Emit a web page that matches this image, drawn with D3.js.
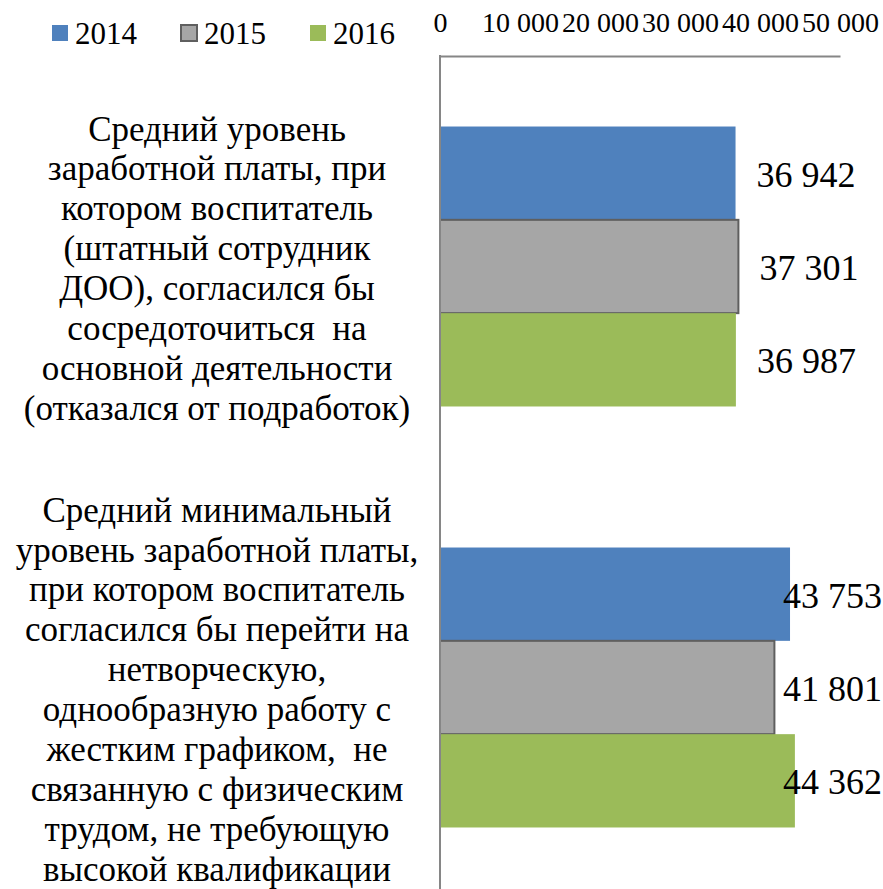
<!DOCTYPE html>
<html>
<head>
<meta charset="utf-8">
<script src="https://cdn.jsdelivr.net/npm/d3@7"></script>
<style>
  body { margin: 0; background: #fff; }
  svg { display: block; }
  svg text { font-family: "Liberation Serif", "Times New Roman", serif; }
</style>
</head>
<body>
<svg id="chart"></svg>
<script>
// categories, each split into the lines shown left of the bars
const categories = [
  ['Средний уровень', 'заработной платы, при', 'котором воспитатель', '(штатный сотрудник',
   'ДОО), согласился бы', 'сосредоточиться  на', 'основной деятельности', '(отказался от подработок)'],
  ['Средний минимальный', 'уровень заработной платы,', 'при котором воспитатель',
   'согласился бы перейти на', 'нетворческую,', 'однообразную работу с', 'жестким графиком,  не',
   'связанную с физическим', 'трудом, не требующую', 'высокой квалификации']
];
const years = ['2014', '2015', '2016'];
const values2014 = [36942, 43753];
const values2015 = [37301, 41801];
const values2016 = [36987, 44362];
const xTicks = [0, 10000, 20000, 30000, 40000, 50000];
const yearColors = ['#4f81bd', '#a6a6a6', '#9bbb59'];

// settings
const config = {
  width: 883,
  height: 889,
  plot: { left: 440, top: 56, right: 840, bottom: 898 },
  chartRight: 882,
  legend: { x: 52, y: 25, step: 129, box: 16 },
};

const seriesValues = [values2014, values2015, values2016];
const rows = categories.map((lines, i) => ({
  lines: lines,
  bars: years.map((y, j) => ({ year: y, value: seriesValues[j][i], color: yearColors[j] })),
}));

// russian style number formatting: 10 000
const ru = d3.formatLocale({ decimal: ',', thousands: '\u00a0', grouping: [3], currency: ['', ''] });
const fmt = ru.format(',d');

const svg = d3.select('#chart')
  .attr('width', config.width)
  .attr('height', config.height);

const x = d3.scaleLinear()
  .domain([0, 50000])
  .range([config.plot.left, config.plot.right]);

const y = d3.scaleBand()
  .domain(d3.range(categories.length))
  .range([config.plot.top, config.plot.bottom])
  .paddingInner(0.335)
  .paddingOuter(0.1675);

const yInner = d3.scaleBand()
  .domain(years)
  .range([0, y.bandwidth()]);

// bars
const groups = svg.selectAll('.cat')
  .data(rows)
  .join('g')
  .attr('class', 'cat')
  .attr('transform', (d, i) => `translate(0, ${y(i)})`);

groups.selectAll('rect')
  .data(d => d.bars)
  .join('rect')
  .attr('x', x(0))
  .attr('y', d => yInner(d.year))
  .attr('width', d => x(d.value) - x(0))
  .attr('height', yInner.bandwidth())
  .attr('fill', d => d.color)
  .attr('stroke', d => d.year === '2015' ? '#5f5f5f' : 'none')
  .attr('stroke-width', 2);

// value labels, pushed back inside the chart area when they would overflow (like excel does)
groups.selectAll('text.value')
  .data(d => d.bars)
  .join('text')
  .attr('class', 'value')
  .attr('y', d => yInner(d.year) + yInner.bandwidth() / 2)
  .attr('dy', '0.38em')
  .attr('font-size', 36)
  .attr('fill', '#000')
  .text(d => fmt(d.value))
  .attr('x', function(d) {
    const w = this.getComputedTextLength();
    return Math.min(x(d.value) + 21, config.chartRight - w);
  });

// category labels
groups.each(function(d) {
  const n = d.lines.length;
  const lineH = 40;
  const t = d3.select(this).append('text')
    .attr('text-anchor', 'middle')
    .attr('font-size', 35)
    .attr('fill', '#000');
  t.selectAll('tspan')
    .data(d.lines)
    .join('tspan')
    .attr('x', 217)
    .attr('y', (l, k) => y.bandwidth() / 2 + 14 + (k - (n - 1) / 2) * lineH)
    .style('white-space', 'pre')
    .text(l => l);
});

// axes
const xAxis = d3.axisTop(x)
  .tickValues(xTicks)
  .tickSize(0)
  .tickPadding(24)
  .tickFormat(fmt);

const gx = svg.append('g')
  .attr('transform', `translate(0, ${config.plot.top})`)
  .call(xAxis);
gx.select('.domain').attr('stroke', '#868686').attr('stroke-width', 2);
gx.selectAll('text')
  .attr('font-size', 28)
  .attr('fill', '#000');

svg.append('line')
  .attr('x1', x(0)).attr('x2', x(0))
  .attr('y1', config.plot.top - 1).attr('y2', config.height)
  .attr('stroke', '#868686')
  .attr('stroke-width', 2);

// legend
const legend = svg.selectAll('.legend')
  .data(years)
  .join('g')
  .attr('class', 'legend')
  .attr('transform', (d, i) => `translate(${config.legend.x + i * config.legend.step}, ${config.legend.y})`);

legend.append('rect')
  .attr('width', config.legend.box)
  .attr('height', config.legend.box)
  .attr('fill', (d, i) => yearColors[i])
  .attr('stroke', d => d === '2015' ? '#5f5f5f' : 'none')
  .attr('stroke-width', 2);

legend.append('text')
  .attr('x', config.legend.box + 7)
  .attr('y', 19)
  .attr('font-size', 31)
  .attr('fill', '#000')
  .text(d => d);
</script>
</body>
</html>
